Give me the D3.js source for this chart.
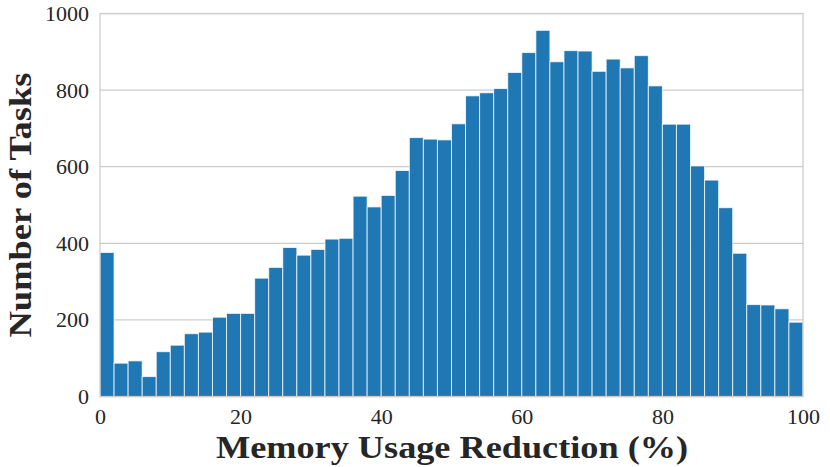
<!DOCTYPE html>
<html>
<head>
<meta charset="utf-8">
<script src="https://cdn.jsdelivr.net/npm/d3@7"></script>
<style>
  body { margin: 0; background: #fff; }
  svg { display: block; }
</style>
</head>
<body>
<svg id="chart" width="830" height="467"></svg>
<script>
// Histogram: 50 bins of width 2 spanning 0..100 (% memory usage reduction)
const binStart = 0;
const binWidth = 2;
const counts = [
  376, 87, 93, 52, 117, 134, 164, 168, 207, 217,
  217, 309, 337, 389, 369, 384, 411, 413, 523, 495,
  525, 590, 676, 672, 670, 712, 785, 793, 804, 846,
  898, 956, 874, 903, 902, 849, 881, 858, 890, 811,
  711, 711, 602, 565, 493, 374, 240, 239, 229, 194
];
const xTicks = [0, 20, 40, 60, 80, 100];
const yTicks = [0, 200, 400, 600, 800, 1000];
const xLabel = "Memory Usage Reduction (%)";
const yLabel = "Number of Tasks";

const bins = counts.map((c, i) => ({ x0: binStart + i * binWidth, x1: binStart + (i + 1) * binWidth, count: c }));

const svg = d3.select("#chart");
const margin = { left: 100, right: 27, top: 13.5, bottom: 70.5 };
const W = 830, H = 467;
const x = d3.scaleLinear().domain([0, 100]).range([margin.left, W - margin.right]);
const y = d3.scaleLinear().domain([0, 1000]).range([H - margin.bottom, margin.top]);

const serif = "'Liberation Serif', 'Times New Roman', serif";
const grid = "#cccccc";
const txt = "#262626";

// gridlines (horizontal)
svg.append("g").selectAll("line").data(yTicks).join("line")
  .attr("x1", x(0)).attr("x2", x(100))
  .attr("y1", d => y(d)).attr("y2", d => y(d))
  .attr("stroke", grid).attr("stroke-width", 1.25);

// bars
svg.append("g").selectAll("rect").data(bins).join("rect")
  .attr("x", d => x(d.x0))
  .attr("width", d => x(d.x1) - x(d.x0))
  .attr("y", d => y(d.count))
  .attr("height", d => y(0) - y(d.count))
  .attr("fill", "#1f77b4")
  .attr("stroke", "#ffffff")
  .attr("stroke-opacity", 0.75)
  .attr("stroke-width", 1);

// frame (spines)
svg.append("rect")
  .attr("x", x(0)).attr("y", y(1000))
  .attr("width", x(100) - x(0)).attr("height", y(0) - y(1000))
  .attr("fill", "none").attr("stroke", grid).attr("stroke-width", 1.25);

// axes
const xAxis = d3.axisBottom(x).tickValues(xTicks).tickSize(0).tickPadding(12).tickFormat(d3.format("d"));
const gx = svg.append("g").attr("transform", `translate(0,${y(0)})`).call(xAxis);
gx.select(".domain").remove();
gx.selectAll("text").attr("font-family", serif).attr("font-size", 22).attr("fill", txt);

const yAxis = d3.axisLeft(y).tickValues(yTicks).tickSize(0).tickPadding(11).tickFormat(d3.format("d"));
const gy = svg.append("g").attr("transform", `translate(${x(0)},0)`).call(yAxis);
gy.select(".domain").remove();
gy.selectAll("text").attr("font-family", serif).attr("font-size", 22).attr("fill", txt);

// axis titles
svg.append("text")
  .attr("x", (x(0) + x(100)) / 2 + 0.5).attr("y", 458)
  .attr("text-anchor", "middle")
  .attr("font-family", serif).attr("font-weight", "bold").attr("font-size", 32)
  .attr("fill", txt)
  .attr("textLength", 472).attr("lengthAdjust", "spacingAndGlyphs")
  .text(xLabel);

svg.append("text")
  .attr("transform", `translate(31,${(y(0) + y(1000)) / 2}) rotate(-90)`)
  .attr("text-anchor", "middle")
  .attr("font-family", serif).attr("font-weight", "bold").attr("font-size", 32)
  .attr("fill", txt)
  .attr("textLength", 265).attr("lengthAdjust", "spacingAndGlyphs")
  .text(yLabel);
</script>
</body>
</html>
